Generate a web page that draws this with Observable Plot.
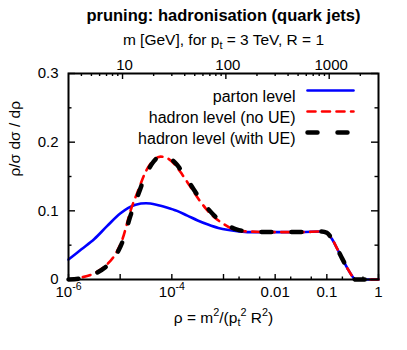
<!DOCTYPE html>
<html>
<head>
<meta charset="utf-8">
<script src="https://cdn.jsdelivr.net/npm/d3@7"></script>
<script src="https://cdn.jsdelivr.net/npm/@observablehq/plot@0.6"></script>
<style>
  html, body { margin: 0; padding: 0; background: #fff; }
  #chart svg { display: block; }
</style>
</head>
<body>
<div id="chart"></div>
<script>
// ---------- data ----------
const titleText = "pruning: hadronisation (quark jets)";
const topAxisLabel = "m [GeV], for p_{t} = 3 TeV, R = 1";
const xAxisLabel = "ρ = m^{2}/(p_{t}^{2} R^{2})";
const yAxisLabel = "ρ/σ dσ / dρ";
const ptGeV = 3000, jetR = 1;

const seriesNames = ["parton level", "hadron level (no UE)", "hadron level (with UE)"];

// log10(rho) sample positions and curve values
const partonLogRho = [-6, -5.75, -5.5, -5.25, -5.0, -4.85, -4.7, -4.5, -4.3, -4.1, -3.9, -3.7, -3.5, -3.3, -3.1, -2.9, -2.7, -2.5, -2.0, -1.5, -1.1, -1.0, -0.9, -0.8, -0.7, -0.6, -0.5, -0.45, -0.2, 0];
const partonVal    = [0.029, 0.044, 0.059, 0.078, 0.096, 0.104, 0.109, 0.111, 0.109, 0.105, 0.100, 0.093, 0.086, 0.080, 0.075, 0.072, 0.070, 0.069, 0.069, 0.069, 0.070, 0.068, 0.059, 0.045, 0.030, 0.016, 0.004, 0.0, 0.0, 0.0];

const noUeLogRho = [-6, -5.75, -5.5, -5.3, -5.1, -4.95, -4.8, -4.65, -4.5, -4.35, -4.22, -4.1, -3.95, -3.8, -3.65, -3.5, -3.35, -3.2, -3.0, -2.8, -2.55, -2.0, -1.5, -1.1, -1.0, -0.9, -0.8, -0.7, -0.6, -0.5, -0.45, -0.2, 0];
const noUeVal    = [0.0, 0.003, 0.009, 0.019, 0.036, 0.060, 0.100, 0.130, 0.158, 0.174, 0.179, 0.177, 0.168, 0.153, 0.136, 0.119, 0.104, 0.092, 0.081, 0.073, 0.070, 0.069, 0.069, 0.070, 0.068, 0.059, 0.045, 0.030, 0.016, 0.004, 0.0, 0.0, 0.0];

const withUeLogRho = [-6, -5.75, -5.5, -5.3, -5.1, -4.95, -4.8, -4.65, -4.5, -4.35, -4.2, -4.05, -3.9, -3.75, -3.6, -3.45, -3.3, -3.15, -2.95, -2.75, -2.5, -2.0, -1.5, -1.1, -1.0, -0.9, -0.8, -0.7, -0.6, -0.5, -0.45, -0.2, 0];
const withUeVal    = [0.0, 0.002, 0.008, 0.017, 0.033, 0.056, 0.093, 0.124, 0.153, 0.172, 0.180, 0.177, 0.167, 0.151, 0.134, 0.117, 0.103, 0.091, 0.080, 0.073, 0.070, 0.069, 0.069, 0.070, 0.068, 0.059, 0.045, 0.030, 0.016, 0.004, 0.0, 0.0, 0.0];

// ticks
const xMajorTicks = [1e-6, 1e-5, 1e-4, 1e-3, 0.01, 0.1, 1];
const xMinorTicks = [0.002, 0.005, 0.02, 0.05, 0.2, 0.5];
const xLabelValues = [1e-6, 1e-4, 0.01, 0.1, 1];
const xLabelTexts = ["10^{-6}", "10^{-4}", "0.01", "0.1", "1"];
const mMajorTicks = [10, 100, 1000];
const mMinorTicks = [4, 5, 6, 7, 8, 9, 20, 30, 40, 50, 60, 70, 80, 90, 200, 300, 400, 500, 600, 700, 800, 900, 2000];
const yMajorTicks = [0, 0.1, 0.2, 0.3];
const yMinorTicks = [0.05, 0.15, 0.25];
const yLabelTexts = ["0", "0.1", "0.2", "0.3"];

// ---------- layout ----------
const W = 407, H = 350;
const mL = 68, mR = 29, mT = 73, mB = 71;
const FW = W - mL - mR, FH = H - mT - mB;
const fsTick = 15, fsLabel = 15.5, fsLegend = 16, fsTitle = 16.5;

const toRows = (lr, v, s) => lr.map((e, i) => ({rho: Math.pow(10, e), val: v[i], series: s}));
const parton = toRows(partonLogRho, partonVal, seriesNames[0]);
const noUe = toRows(noUeLogRho, noUeVal, seriesNames[1]);
const withUe = toRows(withUeLogRho, withUeVal, seriesNames[2]);
const mToRho = m => Math.pow(m / (ptGeV * jetR), 2);

const styles = [
  {stroke: "#0000ff", strokeWidth: 2.6},
  {stroke: "#ff0000", strokeWidth: 2.6, strokeDasharray: "8,6.5"},
  {stroke: "#000000", strokeWidth: 4.5, strokeDasharray: "10,20"}
];

const hLine = {draw(ctx, l) { ctx.moveTo(0, 0); ctx.lineTo(0, -l); }};

const legendMarks = seriesNames.flatMap((name, i) => [
  Plot.text([name], {frameAnchor: "top-right", dx: -83, dy: 17 + 21 * i, textAnchor: "end", fontSize: fsLegend, fill: "black"}),
  Plot.vector([name], {frameAnchor: "top-right", dx: -71, dy: 17 + 21 * i, anchor: "start", rotate: 90, length: 46, shape: hLine, ...styles[i]})
]);

const plot = Plot.plot({
  width: W, height: H,
  marginLeft: mL, marginRight: mR, marginTop: mT, marginBottom: mB,
  style: {fontFamily: "'Liberation Sans', Arial, Helvetica, sans-serif", fontSize: "15px", background: "white", color: "black"},
  x: {type: "log", domain: [1e-6, 1], axis: null},
  y: {domain: [0, 0.3], axis: null},
  marks: [
    // curves
    Plot.line(parton, {x: "rho", y: "val", curve: "monotone-x", ...styles[0]}),
    Plot.line(noUe, {x: "rho", y: "val", curve: "monotone-x", ...styles[1]}),
    Plot.line(withUe, {x: "rho", y: "val", curve: "monotone-x", ...styles[2]}),
    // inward ticks
    Plot.ruleX(xMajorTicks, {x: d => d, insetTop: FH - 5, stroke: "black", strokeWidth: 1.4}),
    Plot.ruleX(xMinorTicks, {x: d => d, insetTop: FH - 2.5, stroke: "black", strokeWidth: 1.4}),
    Plot.ruleX(mMajorTicks, {x: mToRho, insetBottom: FH - 6, stroke: "black", strokeWidth: 1.4}),
    Plot.ruleX(mMinorTicks, {x: mToRho, insetBottom: FH - 3, stroke: "black", strokeWidth: 1.4}),
    Plot.ruleY(yMajorTicks, {y: d => d, insetRight: FW - 7, stroke: "black", strokeWidth: 1.4}),
    Plot.ruleY(yMinorTicks, {y: d => d, insetRight: FW - 3.5, stroke: "black", strokeWidth: 1.4}),
    Plot.ruleY(yMajorTicks, {y: d => d, insetLeft: FW - 7, stroke: "black", strokeWidth: 1.4}),
    Plot.ruleY(yMinorTicks, {y: d => d, insetLeft: FW - 3.5, stroke: "black", strokeWidth: 1.4}),
    Plot.frame({stroke: "black", strokeWidth: 2}),
    // tick labels
    Plot.text(xLabelValues, {x: d => d, text: (d, i) => xLabelTexts[i], frameAnchor: "bottom", dy: 17.2, fontSize: fsTick, fill: "black"}),
    Plot.text(mMajorTicks, {x: mToRho, text: d => String(d), frameAnchor: "top", dx: 2, dy: -13.8, fontSize: fsTick, fill: "black"}),
    Plot.text(yMajorTicks, {y: d => d, text: (d, i) => yLabelTexts[i], frameAnchor: "left", dx: -10, textAnchor: "end", fontSize: fsTick, fill: "black"}),
    // axis labels and title
    Plot.text([titleText], {frameAnchor: "top", dy: -64.3, fontWeight: "bold", fontSize: fsTitle, fill: "black"}),
    Plot.text([topAxisLabel], {frameAnchor: "top", dy: -39.7, fontSize: fsLabel, fill: "black"}),
    Plot.text([xAxisLabel], {frameAnchor: "bottom", dy: 43, fontSize: fsLabel, fill: "black"}),
    Plot.text([yAxisLabel], {frameAnchor: "left", dx: -53, rotate: -90, fontSize: fsLabel, fill: "black"}),
    ...legendMarks
  ]
});

document.getElementById("chart").appendChild(plot);

// render ^{..} and _{..} as raised / lowered tspans
const NS = "http://www.w3.org/2000/svg";
plot.querySelectorAll("text").forEach(el => {
  const s = el.textContent;
  if (!/[\^_]\{/.test(s)) return;
  const fs = parseFloat(getComputedStyle(el).fontSize) || 15;
  const parts = [...s.matchAll(/([\^_])\{([^}]*)\}|[^\^_]+/g)];
  el.textContent = "";
  let shift = 0;
  for (const p of parts) {
    const ts = document.createElementNS(NS, "tspan");
    if (p[1]) {
      const target = p[1] === "^" ? -0.42 * fs : 0.25 * fs;
      ts.setAttribute("dy", String(target - shift));
      ts.setAttribute("font-size", String(0.7 * fs));
      ts.textContent = p[2];
      shift = target;
    } else {
      if (shift !== 0) ts.setAttribute("dy", String(-shift));
      shift = 0;
      ts.textContent = p[0];
    }
    el.appendChild(ts);
  }
});
</script>
</body>
</html>
